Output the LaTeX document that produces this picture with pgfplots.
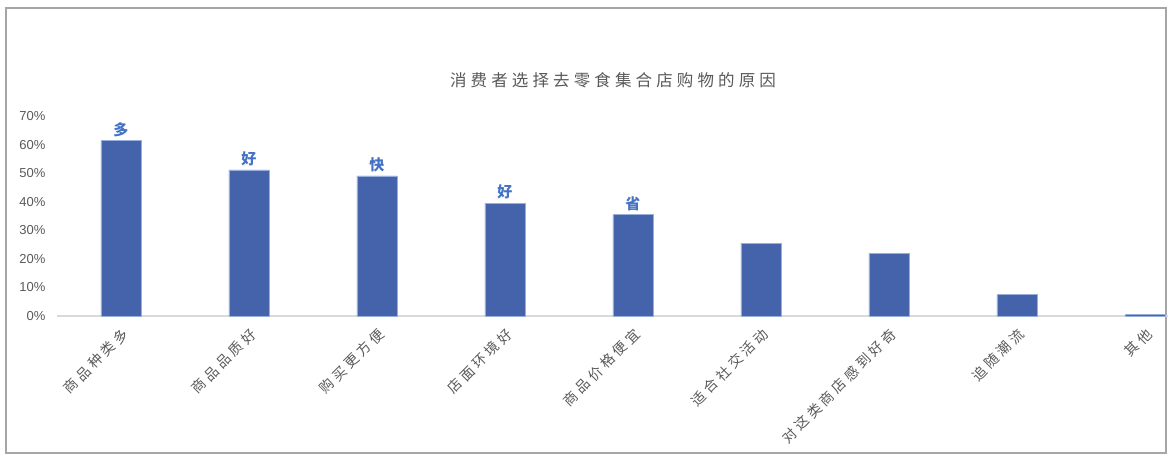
\documentclass[border=0pt]{standalone}
\usepackage{fontspec}
\setmainfont{Liberation Sans}
\newfontfamily\cjk{Noto Sans CJK SC}
\newfontfamily\cjktitle[LetterSpace=25]{Noto Sans CJK SC}
\newfontfamily\cjklabel[LetterSpace=25]{Noto Sans CJK SC}
\usepackage{pgfplots}
\pgfplotsset{compat=1.18}

\definecolor{barblue}{RGB}{68,99,170}
\definecolor{baredge}{RGB}{150,175,220}
\definecolor{lblblue}{RGB}{68,114,196}
\definecolor{txtgray}{RGB}{89,89,89}
\definecolor{framegray}{RGB}{166,166,166}
\definecolor{axisgray}{RGB}{217,217,217}

\begin{document}
\begin{tikzpicture}[x=1pt,y=1pt]
  \path[use as bounding box] (0,0) rectangle (1174,462);
  \draw[framegray, line width=2pt] (6,9) rectangle (1166,454);

  \node[text=txtgray, font=\cjktitle\fontsize{16.5}{16.5}\selectfont] at (613,382)
    {消费者选择去零食集合店购物的原因};

  \begin{axis}[
      at={(57pt,146pt)}, anchor=south west,
      scale only axis,
      width=1111pt, height=200pt,
      xmin=-0.5, xmax=8.18,
      ymin=0, ymax=70,
      separate axis lines,
      axis x line*=bottom,
      axis y line*=left,
      x axis line style={draw=axisgray, line width=1.5pt, -},
      y axis line style={draw=none},
      major tick length=0pt,
      ytick={0,10,...,70},
      yticklabel={\pgfmathprintnumber{\tick}\%},
      yticklabel style={text=txtgray, font=\fontsize{13}{13}\selectfont, xshift=-8pt},
      /pgf/number format/assume math mode=true,
      xtick=data,
      xticklabels={商品种类多, 商品品质好, 购买更方便, 店面环境好, 商品价格便宜,
                   适合社交活动, 对这类商店感到好奇, 追随潮流, 其他},
      xticklabel style={xshift=7pt, yshift=-13pt, rotate=45, anchor=east,
                        text=txtgray, font=\cjklabel\fontsize{14}{14}\selectfont},
      ybar, bar width=40pt,
      point meta=explicit symbolic,
      nodes near coords={\pgfplotspointmeta},
      nodes near coords style={text=lblblue, font=\cjk\fontsize{15}{15}\selectfont\bfseries},
      clip=false,
    ]
    \addplot[fill=barblue, draw=baredge, line width=0.8pt] coordinates {
      (0,61.3)[多]
      (1,51.1)[好]
      (2,49.0)[快]
      (3,39.5)[好]
      (4,35.4)[省]
      (5,25.5)[]
      (6,22.0)[]
      (7,7.4)[]
      (8,0.5)[]
    };
  \end{axis}
\end{tikzpicture}
\end{document}
